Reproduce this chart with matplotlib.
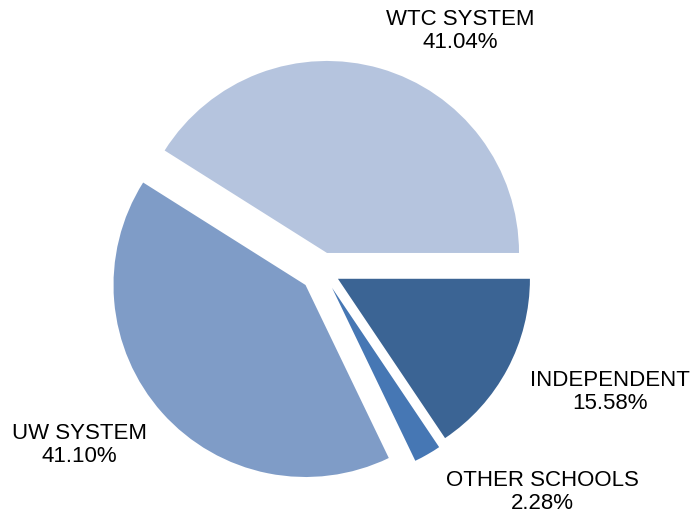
import matplotlib
matplotlib.use("Agg")
import matplotlib.pyplot as plt

categories = ["WTC SYSTEM", "UW SYSTEM", "OTHER SCHOOLS", "INDEPENDENT"]
values = [41.04, 41.10, 2.28, 15.58]
colors = ["#b5c4de", "#7f9cc7", "#4677b4", "#3b6494"]
explode = [0.094, 0.115, 0.105, 0.094]

plt.rcParams['font.family'] = ['Liberation Sans', 'DejaVu Sans']

fig = plt.figure(figsize=(6.93, 5.19), dpi=100)
ax = fig.add_axes([0, 0, 1, 1])
R = 192.0
cx, cy = 322.0, 270.3
ax.pie(values, colors=colors, explode=explode, startangle=0, counterclock=True,
       radius=1.0, center=(0, 0), wedgeprops=dict(linewidth=0))
ax.set_xlim(-cx / R, (693 - cx) / R)
ax.set_ylim(-(519 - cy) / R, cy / R)
ax.set_aspect('equal')
ax.axis('off')

def px(x, y):
    return ((x - cx) / R, (cy - y) / R)

label_pos = [(460, 31), (79, 445), (542, 492), (610, 392)]
for name, v, (lx, ly) in zip(categories, values, label_pos):
    x, y = px(lx, ly)
    ax.text(x, y, f"{name}\n{v:.2f}%", ha='center', va='center', fontsize=16,
            linespacing=1.15, color='black')

fig.savefig("out.png", dpi=100)
